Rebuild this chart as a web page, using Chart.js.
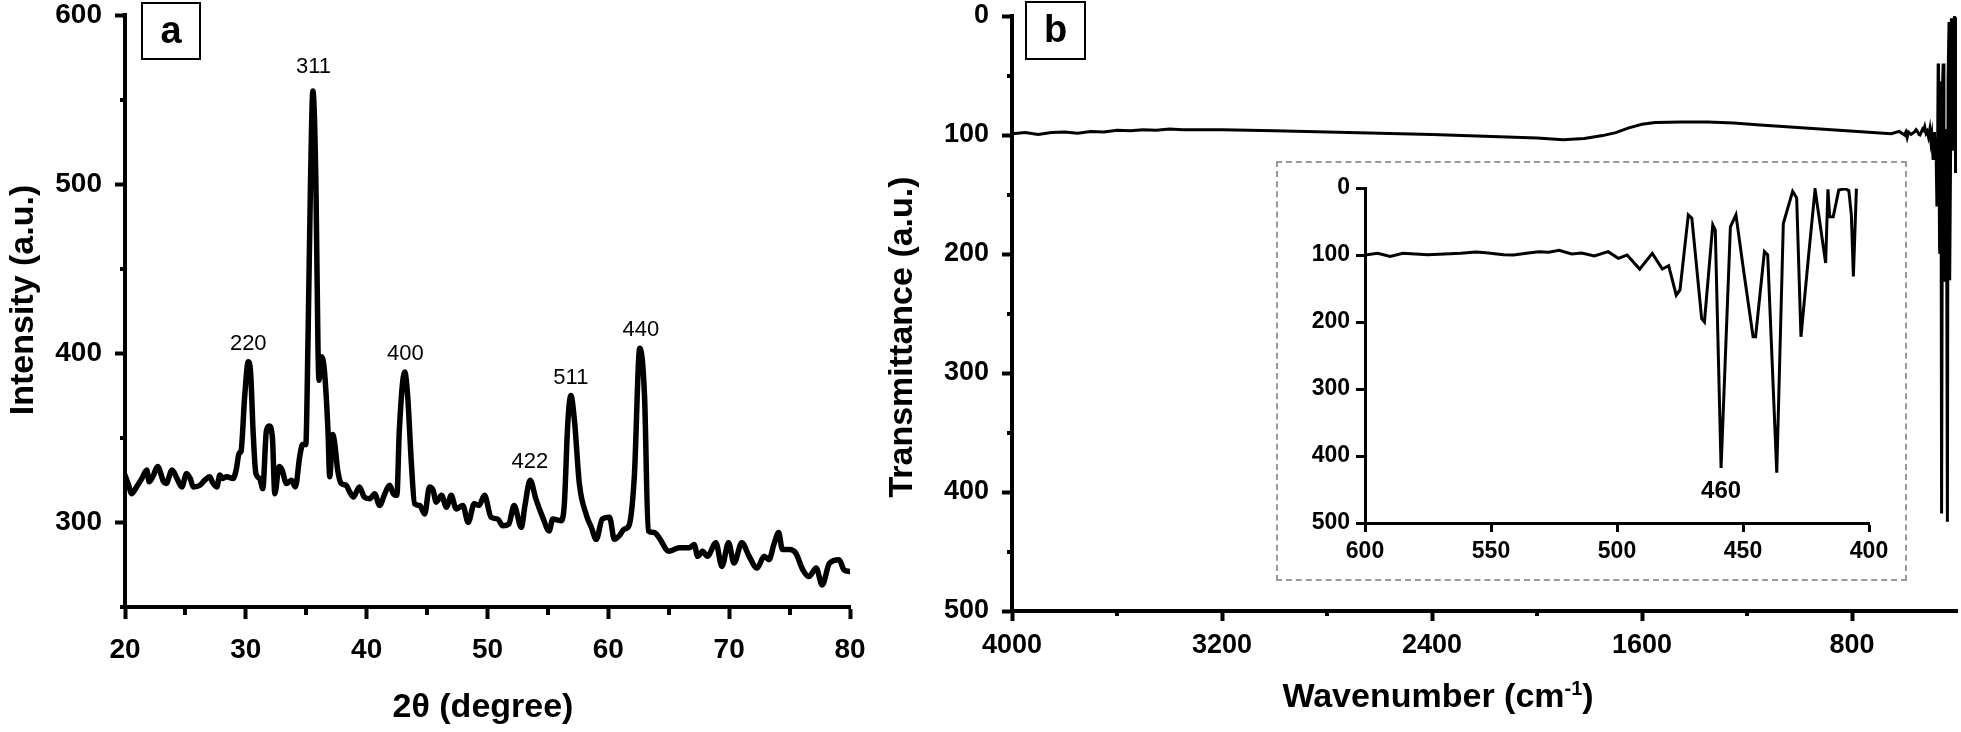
<!DOCTYPE html>
<html>
<head>
<meta charset="utf-8">
<script src="https://cdn.jsdelivr.net/npm/chart.js@4.4.1/dist/chart.umd.min.js"></script>
<style>
  html, body { margin: 0; padding: 0; background: #fff; }
  #wrap { position: relative; width: 1961px; height: 732px; overflow: hidden; font-family: "Liberation Sans", Arial, sans-serif; }
  canvas { position: absolute; }
  .tag { position: absolute; border: 2px solid #000; box-sizing: border-box; font-weight: bold; font-size: 38px; text-align: center; line-height: 52px; }
  #insetBox { position: absolute; left: 1276px; top: 161px; width: 631px; height: 420px; border: 2px dashed #9a9a9a; box-sizing: border-box; }
</style>
</head>
<body>
<div id="wrap">
  <canvas id="graficoXrd" width="900" height="732" style="left:0;top:0"></canvas>
  <canvas id="graficoFtir" width="1081" height="732" style="left:880px;top:0"></canvas>
  <div id="insetBox"></div>
  <canvas id="graficoInset" width="640" height="410" style="left:1280px;top:165px"></canvas>
  <div class="tag" style="left:141px;top:2px;width:60px;height:58px">a</div>
  <div class="tag" style="left:1025px;top:1px;width:61px;height:59px">b</div>
</div>
<script>
// painel a - difratograma
const xrdAngle = [20.0, 20.3, 20.55, 20.96, 21.4, 21.8, 22.0, 22.3, 22.7, 23.2, 23.4, 23.9, 24.3, 24.7, 25.1, 25.4, 25.65, 26.2, 26.6, 27.0,
  27.3, 27.6, 27.85, 28.1, 28.4, 28.95, 29.2, 29.45, 29.6, 29.9, 30.2, 30.4, 30.6, 30.83, 31.15, 31.4, 31.7, 31.93, 32.2, 32.4,
  32.75, 33.0, 33.36, 33.77, 34.1, 34.46, 34.7, 34.96, 35.15, 35.35, 35.55, 35.8, 35.97, 36.06, 36.25, 36.5, 36.8, 36.94, 37.2, 37.35,
  37.6, 37.9, 38.3, 38.6, 38.9, 39.4, 39.8, 40.25, 40.66, 41.07, 41.5, 41.9, 42.2, 42.5, 42.7, 43.15, 43.4, 43.7, 43.97, 44.4,
  44.8, 45.2, 45.5, 45.75, 46.2, 46.6, 47.0, 47.4, 47.96, 48.4, 48.9, 49.3, 49.75, 50.3, 50.85, 51.27, 51.76, 52.2, 52.8, 53.1,
  53.53, 54.0, 54.57, 55.1, 55.4, 56.1, 56.36, 56.64, 56.9, 57.2, 57.6, 58.2, 58.6, 59.0, 59.5, 60.1, 60.5, 60.9, 61.3, 61.7,
  62.15, 62.6, 63.0, 63.3, 63.8, 64.2, 65.0, 65.9, 66.7, 67.1, 67.4, 67.8, 68.2, 68.9, 69.4, 69.95, 70.4, 71.05, 71.65, 72.3,
  72.9, 73.3, 73.7, 74.1, 74.4, 75.0, 75.5, 76.1, 76.6, 77.2, 77.7, 78.3, 79.1, 79.5, 80.0];
const xrdIntensity = [328, 322, 317, 321, 326, 331, 324, 327, 333, 324, 323, 331, 326, 321, 329, 326, 321, 322, 325, 327,
  323, 321, 328, 326, 327, 326, 331, 341, 342, 374, 395, 388, 354, 329, 326, 320, 354, 357, 350, 317,
  333, 331, 323, 325, 321, 339, 346, 346, 410, 500, 555, 500, 404, 384, 398, 390, 354, 327, 352, 347,
  331, 323, 322, 318, 315, 321, 315, 314, 317, 310, 317, 322, 317, 316, 354, 389, 374, 335, 311, 310,
  305, 321, 319, 312, 316, 309, 316, 308, 310, 300, 311, 310, 316, 303, 302, 298, 299, 310, 297, 310,
  325, 314, 303, 295, 302, 301, 311, 358, 375, 360, 323, 304, 297, 290, 302, 303, 290, 292, 296, 298,
  327, 403, 374, 295, 294, 291, 283, 285, 285, 287, 280, 283, 280, 288, 274, 288, 276, 288, 280, 273,
  280, 278, 287, 294, 284, 284, 282, 272, 268, 273, 263, 276, 278, 272, 271];

const hklLabels = ["220", "311", "400", "422", "511", "440"];
const hklAngle = [30.2, 35.6, 43.2, 53.5, 56.9, 62.7];
const hklIntensity = [395, 555, 389, 325, 375, 403];

const xrdXTicks = [20, 30, 40, 50, 60, 70, 80];
const xrdXMinor = [25, 35, 45, 55, 65, 75];
const xrdYTicks = [300, 400, 500, 600];
const xrdYMinor = [250, 350, 450, 550];

// painel b - FTIR (espectro completo + ampliacao 600-400)
const ftirWavenumber = [4000, 3950, 3900, 3850, 3800, 3750, 3700, 3650, 3600, 3550, 3500, 3450, 3400, 3350, 3300, 3200, 3100, 3000,
  2800, 2600, 2400, 2200, 2000, 1900, 1820, 1750, 1700, 1650, 1600, 1550, 1450, 1350, 1250, 1150, 1050, 950, 850, 750, 680, 650, 620];
const ftirTransmittance = [99, 98, 99.5, 98, 97.5, 98.5, 97, 97.5, 96, 96.5, 95.5, 96, 95, 95.5, 95.5, 95.5, 96, 96.5,
  97.5, 98.5, 99.5, 101, 102.5, 104, 103, 100.5, 98, 94, 91, 89.5, 89, 89, 90, 91.5, 93, 94.5, 96, 97.5, 98.5, 99, 97];

const insetWavenumber = [600, 595, 590, 585, 575, 562, 556, 552, 545, 541, 536, 531, 527, 523, 518, 514, 509, 503.5, 499.5, 496,
  491, 486, 482, 479.5, 476.5, 475, 471.7, 470.3, 466.4, 465.3, 462, 461, 458.7, 455, 452.8, 449.8, 446, 445, 441.5, 440.2,
  436.6, 434, 430.3, 428.7, 427, 424, 421.4, 417.2, 416.3, 415.6, 414.2, 412, 409.5, 408, 407, 406.2, 405];
const insetTransmittance = [100, 97.5, 102, 97.5, 99.5, 97.5, 95.5, 96.5, 99.5, 100, 97.5, 95, 96, 93, 98.5, 97, 101.5, 95, 105, 100,
  121, 97.5, 121, 116, 160, 152, 40, 45, 195, 200, 55, 63, 418, 58, 40, 122, 222, 222, 95, 100,
  425, 53, 5, 15, 222, 102, 2, 112, 2, 43, 43, 3, 1, 4, 40, 132, 1];

const ftirXTicks = [4000, 3200, 2400, 1600, 800];
const ftirXMinor = [3600, 2800, 2000, 1200];
const ftirYTicks = [0, 100, 200, 300, 400, 500];
const ftirYMinor = [50, 150, 250, 350, 450];
const insetXTicks = [600, 550, 500, 450, 400];
const insetYTicks = [0, 100, 200, 300, 400, 500];
const insetPeakLabel = "460";
const insetPeakWn = 458.7;
const insetPeakValue = 418;

const FAMILIA = '"Liberation Sans", Arial, sans-serif';
Chart.defaults.font.family = FAMILIA;
Chart.defaults.color = "#000";

function pontos(xs, ys) {
  return xs.map((x, i) => ({ x: x, y: ys[i] }));
}

function eixo(c) {
  const vertical = c.pos === "left";
  return {
    type: "linear",
    position: c.pos,
    min: c.min,
    max: c.max,
    reverse: !!c.reverse,
    afterBuildTicks: s => { s.ticks = c.ticks.map(v => ({ value: v })); },
    afterFit: s => {
      if (vertical) s.width = c.size;
      else s.height = c.size;
    },
    grid: { drawOnChartArea: false, drawTicks: true, tickLength: c.tl, tickWidth: c.bw, tickColor: "#000" },
    border: { display: true, color: "#000", width: c.bw },
    ticks: {
      // lineHeight pequeno no eixo y para nao empurrar a area do grafico
      font: { size: c.fs, weight: "bold", lineHeight: vertical ? 0.1 : 1 },
      color: "#000",
      padding: c.pad,
      autoSkip: false,
      maxRotation: 0,
      minRotation: 0,
      callback: v => String(v)
    }
  };
}

function desenharTitulo(ctx, t) {
  ctx.save();
  ctx.translate(t.x, t.y);
  if (t.rot) ctx.rotate(t.rot);
  ctx.textAlign = "left";
  ctx.textBaseline = "alphabetic";
  let total = 0;
  t.parts.forEach(p => { ctx.font = p.font; total += ctx.measureText(p.text).width; });
  let cx = -total / 2;
  t.parts.forEach(p => {
    ctx.font = p.font;
    ctx.fillText(p.text, cx, -(p.rise || 0));
    cx += ctx.measureText(p.text).width;
  });
  ctx.restore();
}

// ticks secundarios, titulos dos eixos e rotulos dos picos
function decoracao(c) {
  return {
    id: "decoracao",
    afterDraw(chart) {
      const ctx = chart.ctx;
      const area = chart.chartArea;
      const sx = chart.scales.x, sy = chart.scales.y;
      ctx.save();
      ctx.strokeStyle = "#000";
      ctx.lineWidth = c.tickWidth;
      (c.minorX || []).forEach(v => {
        const px = Math.round(sx.getPixelForValue(v));
        ctx.beginPath(); ctx.moveTo(px, area.bottom); ctx.lineTo(px, area.bottom + c.minorLenX); ctx.stroke();
      });
      (c.minorY || []).forEach(v => {
        const py = Math.round(sy.getPixelForValue(v));
        ctx.beginPath(); ctx.moveTo(area.left, py); ctx.lineTo(area.left - c.minorLenY, py); ctx.stroke();
      });
      ctx.fillStyle = "#000";
      (c.labels || []).forEach(l => {
        ctx.font = l.font;
        ctx.textAlign = "center";
        ctx.textBaseline = "alphabetic";
        ctx.fillText(l.text, sx.getPixelForValue(l.x), sy.getPixelForValue(l.y) + l.dy);
      });
      (c.titles || []).forEach(t => desenharTitulo(ctx, t));
      ctx.restore();
    }
  };
}

function opcoesBase(padding, scales) {
  return {
    responsive: false,
    animation: false,
    devicePixelRatio: 1,
    events: [],
    layout: { padding: padding },
    plugins: { legend: { display: false }, tooltip: { enabled: false } },
    scales: scales
  };
}

// deslocamento vertical (px) de cada rotulo hkl acima do pico
const hklGap = [-12, -18, -12, -12, -12, -12];

// 1) painel a
new Chart(document.getElementById("graficoXrd").getContext("2d"), {
  type: "line",
  data: {
    datasets: [{
      data: pontos(xrdAngle, xrdIntensity),
      borderColor: "#000",
      borderWidth: 5.5,
      pointRadius: 0,
      fill: false,
      cubicInterpolationMode: "monotone",
      borderJoinStyle: "round",
      borderCapStyle: "round"
    }]
  },
  options: opcoesBase({ left: 0, top: 15, right: 50, bottom: 0 }, {
    x: eixo({ pos: "bottom", min: 20, max: 80, ticks: xrdXTicks, size: 125, tl: 12, bw: 4, fs: 28, pad: 17 }),
    y: eixo({ pos: "left", min: 250, max: 600, ticks: xrdYTicks, size: 125, tl: 10, bw: 4, fs: 28, pad: 13 })
  }),
  plugins: [decoracao({
    tickWidth: 4, minorX: xrdXMinor, minorY: xrdYMinor, minorLenX: 8, minorLenY: 5,
    labels: hklLabels.map((t, i) => ({ text: t, x: hklAngle[i], y: hklIntensity[i], dy: hklGap[i], font: "22px " + FAMILIA })),
    titles: [
      { x: 483, y: 717, parts: [{ text: "2\u03b8 (degree)", font: "bold 34px " + FAMILIA }] },
      { x: 33, y: 300, rot: -Math.PI / 2, parts: [{ text: "Intensity (a.u.)", font: "bold 34px " + FAMILIA }] }
    ]
  })]
});

// 2) painel b
new Chart(document.getElementById("graficoFtir").getContext("2d"), {
  type: "line",
  data: {
    datasets: [{
      data: pontos(ftirWavenumber.concat(insetWavenumber), ftirTransmittance.concat(insetTransmittance)),
      borderColor: "#000",
      borderWidth: 3,
      pointRadius: 0,
      fill: false,
      tension: 0
    }]
  },
  options: opcoesBase({ left: 0, top: 16, right: 4, bottom: 0 }, {
    x: eixo({ pos: "bottom", min: 400, max: 4000, reverse: true, ticks: ftirXTicks, size: 121, tl: 10, bw: 4, fs: 27, pad: 11 }),
    y: eixo({ pos: "left", min: 0, max: 500, reverse: true, ticks: ftirYTicks, size: 132, tl: 10, bw: 4, fs: 27, pad: 13 })
  }),
  plugins: [decoracao({
    tickWidth: 4, minorX: ftirXMinor, minorY: ftirYMinor, minorLenX: 5, minorLenY: 5,
    titles: [
      { x: 558, y: 707, parts: [
        { text: "Wavenumber (cm", font: "bold 34px " + FAMILIA },
        { text: "-1", font: "bold 20px " + FAMILIA, rise: 12 },
        { text: ")", font: "bold 34px " + FAMILIA }
      ] },
      { x: 32, y: 337, rot: -Math.PI / 2, parts: [{ text: "Transmittance (a.u.)", font: "bold 34px " + FAMILIA }] }
    ]
  })]
});

// 3) ampliacao (600-400 cm-1)
new Chart(document.getElementById("graficoInset").getContext("2d"), {
  type: "line",
  data: {
    datasets: [{
      data: pontos(insetWavenumber, insetTransmittance),
      borderColor: "#000",
      borderWidth: 3,
      pointRadius: 0,
      fill: false,
      tension: 0
    }]
  },
  options: opcoesBase({ left: 0, top: 23, right: 51, bottom: 0 }, {
    x: eixo({ pos: "bottom", min: 400, max: 600, reverse: true, ticks: insetXTicks, size: 52, tl: 9, bw: 3, fs: 23, pad: 8 }),
    y: eixo({ pos: "left", min: 0, max: 500, reverse: true, ticks: insetYTicks, size: 85, tl: 9, bw: 3, fs: 23, pad: 6 })
  }),
  plugins: [decoracao({
    tickWidth: 3,
    labels: [{ text: insetPeakLabel, x: insetPeakWn, y: insetPeakValue, dy: 30, font: "bold 24px " + FAMILIA }]
  })]
});
</script>
</body>
</html>
